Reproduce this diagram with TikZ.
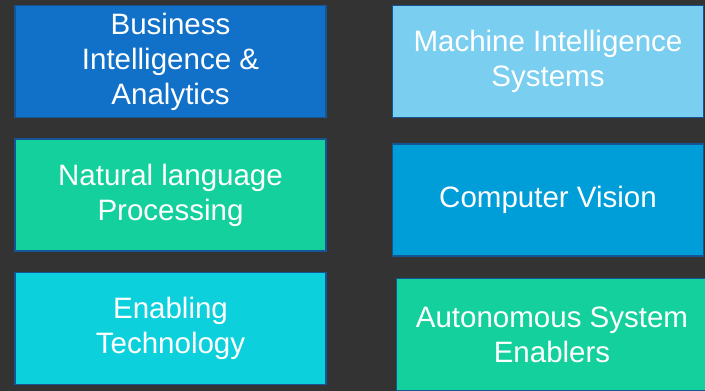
\documentclass[tikz,border=0pt]{standalone}
\usepackage{fontspec}
\setmainfont{Liberation Sans}
\usetikzlibrary{positioning}
\definecolor{bgdark}{RGB}{51,51,51}
\definecolor{edgeblue}{RGB}{22,84,150}
\definecolor{bizblue}{RGB}{17,112,200}
\definecolor{skyblue}{RGB}{122,206,240}
\definecolor{mint}{RGB}{19,208,156}
\definecolor{cvblue}{RGB}{0,158,216}
\definecolor{cyanish}{RGB}{12,208,220}
\tikzstyle{block} = [draw=edgeblue, line width=1.5pt, rectangle, text=white, align=center,
  minimum width=311pt, minimum height=112pt, inner sep=0pt,
  font=\fontsize{29.5}{35}\selectfont]

\begin{document}
\begin{tikzpicture}[node distance=20pt]
    \fill [bgdark] (0,0) rectangle (705pt,-391pt);
    \useasboundingbox (0,0) rectangle (705pt,-391pt);
    \node [block, fill=bizblue] at (170.5pt,-61.5pt) (bia) {Business\\Intelligence \&\\Analytics};
    \node [block, fill=mint, below=of bia] (nlp) {Natural language\\Processing};
    \node [block, fill=cyanish, below=of nlp] (enabling) {Enabling\\Technology};
    \node [block, fill=skyblue, right=65pt of bia] (mis) {Machine Intelligence\\Systems};
    \node [block, fill=cvblue, below=25pt of mis] (cv) {Computer Vision};
    \node [block, fill=mint, below=21pt of cv, xshift=4pt] (ase) {Autonomous System\\Enablers};
\end{tikzpicture}
\end{document}
